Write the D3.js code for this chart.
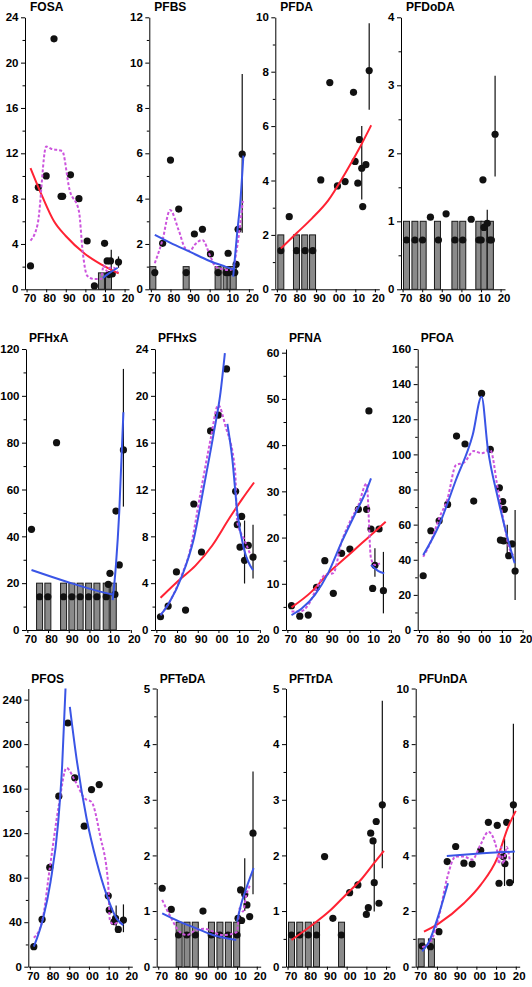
<!DOCTYPE html>
<html><head><meta charset="utf-8">
<script src="https://cdn.jsdelivr.net/npm/d3@7"></script>
<style>
body{margin:0;background:#fff;}
svg text{font-family:"Liberation Sans",Arial,sans-serif;font-weight:bold;fill:#000;}
</style></head><body>
<svg id="c" width="532" height="987"></svg>
<script>
// ---------- DATA (year, value) ----------
const fosaPts=[[1972,2.06],[1976,9.0],[1980,10.0],[1984,22.1],[1987.6,8.2],[1988.4,8.2],[1992.4,10.1],[1996.7,8.0],[2000.9,4.26],[2004.6,0.3],[2009.8,4.06],[2011.1,2.5],[2012.8,2.5],[2013.7,1.35],[2012,1.3],[2016.9,2.4]];
const fosaBars=[[2008.2,1.45],[2011.8,1.45]];
const fosaErr=[[2013.2,1.1,3.5],[2016.9,1.9,2.9]];
const fosaRed=[[1972,10.7],[1978,8.2],[1984,6.0],[1990,4.7],[2000,3.1],[2008,2.2],[2017,1.4]];
const fosaPurple=[[1972,4.3],[1975.7,5.8],[1980,12.6],[1982.5,12.4],[1988.2,12.2],[1991.9,8.8],[1996.7,6.9],[1998.7,3.2],[2000.9,1.2],[2004.7,0.9],[2008,0.9],[2009.3,2.1],[2011,1.6],[2012.5,1.9],[2014.5,1.9],[2016.5,1.5]];
const fosaBlue=[[2009,1.0],[2012,1.4],[2016.5,1.9]];

const pfbsPts=[[1972,0.74],[1976,2.03],[1980,5.7],[1984.2,3.54],[1988,0.74],[1992.2,2.44],[1996.3,2.65],[2000.4,1.56],[2004.3,0.74],[2008.4,0.74],[2009.4,1.59],[2009.8,0.74],[2012.8,0.74],[2013.5,1.1],[2014.5,2.65],[2016.6,5.96]];
const pfbsBars=[[1971,1],[1988,1],[2004.3,1],[2008.4,1],[2010.4,1],[2012,1]];
const pfbsErr=[[2016.6,2.5,9.5]];
const pfbsBlue1=[[1972,2.4],[1980,2.05],[1990,1.65],[2000,1.25],[2008,1.0],[2012,0.88]];
const pfbsBlue2=[[2012,0.56],[2014,2.47],[2015.7,3.94],[2017.2,5.9]];
const pfbsPurple=[[1972,1.15],[1976,2.2],[1979.8,3.5],[1984.2,2.6],[1987.6,1.8],[1990,1.7],[1992.2,1.95],[1996.3,2.18],[2000.4,1.44],[2003,1.0],[2009.8,0.85],[2012,0.9],[2013.5,1.6],[2015.5,2.8],[2016.9,3.9]];

const pfdaPts=[[1972,1.42],[1976.3,2.67],[1980,1.42],[1984.4,1.42],[1988.3,1.42],[1992.4,4.02],[1997,7.6],[2000.9,3.8],[2004.8,3.96],[2009.1,7.24],[2009.9,4.7],[2011.3,3.9],[2012.1,5.5],[2013.3,4.45],[2013.8,3.04],[2015.4,4.58],[2017.1,8.04]];
const pfdaBars=[[1972,2],[1980,2],[1984.2,2],[1988.2,2]];
const pfdaErr=[[2017.1,6.6,9.78],[2013.3,3.3,6.0]];
const pfdaRed=[[1972,1.5],[1980,2.06],[1987.8,2.6],[1996.3,3.28],[2004.8,4.26],[2011.6,5.12],[2018.1,6.03]];

const pfdodaPts=[[1972,0.725],[1976.3,0.725],[1980.2,0.725],[1988.3,0.725],[1996.7,0.725],[2000.7,0.725],[2008.9,0.725],[2010.1,0.725],[2014.5,0.725],[2015.3,0.725],[1984.2,1.06],[1992.2,1.11],[2005,1.03],[2011,1.61],[2011.5,0.91],[2013.2,0.97],[2017.2,2.28]];
const pfdodaBars=[[1972,1],[1976.3,1],[1980.5,1],[1987.8,1],[1996.7,1],[2000.7,1],[2008.9,1],[2011.5,1],[2014.8,1]];
const pfdodaErr=[[2017.2,1.66,3.14],[2013.2,0.75,1.17]];

const pfhxaPts=[[1972,43],[1975.9,14.2],[1979.9,14.2],[1984.1,80],[1987.5,14.2],[1991.5,14.2],[1995.5,14.2],[1999.6,14.2],[2003.6,14.2],[2008.1,14.2],[2009.1,19.5],[2009.9,24.2],[2012.3,15.2],[2012.8,50.8],[2014.4,27.8],[2016.4,76.9]];
const pfhxaBars=[[1975.9,20],[1979.9,20],[1987.5,20],[1991.5,20],[1995.5,20],[1999.6,20],[2003.6,20],[2008.1,20],[2011.5,20]];
const pfhxaErr=[[2016.4,52.7,111.5]];
const pfhxaBlue1=[[1972,25.6],[1989,20.6],[2005.1,16.4],[2011.2,15.2]];
const pfhxaBlue2=[[2011.2,12.8],[2012.8,27.8],[2014.4,50.5],[2016.4,93]];

const pfhxsPts=[[1972,1.13],[1975.7,2.04],[1979.7,4.96],[1984.1,1.7],[1988.1,10.76],[1991.8,6.66],[1996.2,17.0],[1999.9,18.36],[2003.9,22.3],[2008.3,11.84],[2009.1,9.0],[2011.2,9.7],[2010.4,7.08],[2012.6,5.95],[2014.4,7.22],[2016.7,6.23]];
const pfhxsErr=[[2012.6,3.97,9.35],[2016.7,4.4,9.0]];
const pfhxsBlue1=[[1972,1.27],[1976,2.27],[1982.5,4.67],[1988.1,7.8],[1993,12.3],[1997.8,16.9],[2001,20.3],[2003.1,23.65]];
const pfhxsBlue2=[[2004.3,17.6],[2006.7,14.6],[2009.1,10.06],[2012.3,6.94],[2016.7,5.1]];
const pfhxsPurple=[[1972,1.27],[1976,2.27],[1982.5,4.8],[1985.7,6.4],[1991.4,11.76],[1996.2,16.3],[1999.9,19.2],[2003.4,17.4],[2008,13.7],[2009.1,9.2],[2012.3,7.8],[2015.5,6.4]];
const pfhxsRed=[[1972,2.75],[1980.9,4.25],[1988.9,5.5],[1997,7.22],[2005.1,9.5],[2011.5,11.2],[2017.2,12.6]];

const pfnaPts=[[1972,5.26],[1976,3.0],[1980.1,3.24],[1984.1,9.23],[1988.1,15.0],[1992.2,7.93],[1996.2,16.6],[2000.2,17.5],[2004.3,26.1],[2008.3,26.1],[2009.4,47.4],[2010.4,21.85],[2011.2,9.0],[2012.3,14],[2014.3,21.85],[2016.4,8.5]];
const pfnaErr=[[2016.4,3.6,16.9],[2012.3,11.5,17.7]];
const pfnaBlue1=[[1972,3.24],[1976.8,4.6],[1983.3,7.6],[1989.7,12.3],[1996.2,19.0],[2002.6,25.0],[2008.3,30.3],[2010.4,32.8]];
const pfnaBlue2=[[2010.4,14.06],[2014,12.76],[2016.8,12.26]];
const pfnaPurple=[[1972,4.0],[1976,4.0],[1980.1,5.4],[1984.1,9.0],[1988.1,11.9],[1992.2,12.3],[1996.2,19.1],[2000.2,23.4],[2004.3,27.0],[2008.3,31.7],[2010.4,15.5],[2012.3,14.06],[2014.7,14.4]];
const pfnaRed=[[1972,4.9],[1981.7,8.3],[1989.7,12.26],[1997.8,15.5],[2005.9,18.75],[2012.3,21.3],[2017.5,23.4]];

const pfoaPts=[[1972,30.9],[1975.7,56.5],[1979.7,62.2],[1983.8,71.5],[1988.1,110.4],[1992.2,105.9],[1996.4,73.4],[2000.2,134.7],[2004.4,102.8],[2008.8,81.0],[2010.4,73.1],[2011.2,68.7],[2009.3,51.2],[2010.9,50.7],[2013.3,42.3],[2014.9,49],[2016.4,33.6]];
const pfoaErr=[[2016.4,17.1,68.3],[2012.6,43,60]];
const pfoaBlue=[[1972,42.7],[1979.7,59.8],[1987.8,85.4],[1995.9,111],[2000.2,132.8],[2003.2,103.4],[2008.1,75],[2012.6,53.1],[2016.2,38]];
const pfoaPurple=[[1972,41.7],[1975.7,50.3],[1979.7,63.6],[1983.8,75],[1987.8,93.9],[1991.8,95.4],[1996.4,101.9],[2000.2,100.6],[2004.4,102.5],[2008,80.6],[2011.2,59.8],[2013.6,46.5],[2015.5,42.7]];

const pfosPts=[[1972,18],[1976.2,42.5],[1980.1,89.2],[1984.7,153.2],[1989.3,219],[1992.8,169.7],[1997.6,126.3],[2001.3,159.2],[2005.2,163.7],[2009.8,63.7],[2010.3,50.9],[2012.7,40.4],[2013.5,43.4],[2014.9,33.5],[2017.5,41.9]];
const pfosErr=[[2013.8,31,55],[2017.5,31,56]];
const pfosBlue1=[[1972,18],[1976.7,43.4],[1980.5,76.3],[1984.4,130.2],[1986.4,181],[1988.1,250]];
const pfosBlue2=[[1990.3,233.4],[1993.7,187],[1998.8,133.2],[2003.9,94.3],[2009,64.3],[2014,43.4],[2017.4,37.4]];
const pfosPurple=[[1972,26],[1976.2,40.4],[1980.1,88.3],[1984.7,145.1],[1988.6,178.6],[1992.8,167.6],[1997.9,151.1],[2001.3,148.1],[2005.6,118.2],[2009.8,73.3],[2010.6,42],[2012.5,38],[2014.9,40],[2017,38]];

const pftedaPts=[[1972,1.41],[1976.6,1.03],[1980.3,0.57],[1984.5,0.57],[1988.8,0.57],[1992.7,1.0],[1996.9,0.57],[2001.2,0.57],[2005.4,0.57],[2010,0.57],[2010.5,0.87],[2011.8,1.38],[2012.3,0.83],[2013.9,1.3],[2015,1.11],[2016.4,0.9],[2018.1,2.4]];
const pftedaBars=[[1980.6,0.8],[1984.6,0.8],[1988.8,0.8],[1997,0.8],[2001.3,0.8],[2005.6,0.8],[2009.8,0.8]];
const pftedaErr=[[2018.1,1.3,3.51],[2013.9,1.0,1.95]];
const pftedaBlue1=[[1972,0.96],[1980.8,0.81],[1989.3,0.69],[1997.8,0.57],[2009.6,0.48]];
const pftedaBlue2=[[2010,0.81],[2012.2,1.14],[2014.7,1.41],[2018.4,1.77]];
const pftedaPurple=[[1972,1.2],[1976.6,0.87],[1980.8,0.63],[1984.5,0.57],[1989.3,0.66],[1993.5,0.68],[1997.8,0.63],[2002,0.57],[2006.3,0.58],[2010,0.63],[2011.3,1.05],[2013,0.99],[2014.7,1.29],[2016.7,1.47]];

const pftrdaPts=[[1972,0.57],[1976.2,0.57],[1980.5,0.57],[1984.7,0.57],[1988.8,1.98],[1993,0.87],[1997.3,0.57],[2001.5,1.33],[2005.7,1.47],[2010,0.94],[2011,1.06],[2012.2,2.4],[2013.4,2.26],[2014,1.51],[2015,2.61],[2016.4,1.14],[2018.1,2.91]];
const pftrdaBars=[[1972,0.8],[1976.2,0.8],[1980.5,0.8],[1984.7,0.8],[1997.4,0.8]];
const pftrdaErr=[[2018.1,1.77,4.78],[2014,0.99,2.26]];
const pftrdaRed=[[1972,0.48],[1982.5,0.75],[1991,0.99],[1999.5,1.29],[2007.9,1.59],[2013.9,1.86],[2018.9,2.08]];

const pfundaPts=[[1972.5,0.74],[1976.7,0.72],[1981,1.26],[1985.2,3.78],[1989.5,4.32],[1993.7,3.72],[1997.9,3.69],[2002.2,4.18],[2006.1,5.19],[2010.6,5.08],[2011.5,3.0],[2013.7,3.96],[2014.5,3.7],[2015.4,5.19],[2016.9,3.02],[2018.8,5.82]];
const pfundaBars=[[1972,1],[1977.2,1]];
const pfundaErr=[[2018.8,3.0,8.73],[2014.3,2.9,4.6]];
const pfundaBlue1=[[1972.5,0.55],[1976,0.9],[1981,1.9],[1985.6,3.0]];
const pfundaBlue2=[[1985,3.98],[2000,4.06],[2019.5,4.14]];
const pfundaPurple=[[1972.5,0.7],[1976.7,0.9],[1981,1.8],[1985.2,3.2],[1989.5,3.96],[1993.7,3.96],[1997.9,3.85],[2002.2,4.4],[2006.1,4.85],[2010.6,4.15],[2011.5,3.7],[2012.6,4.3],[2013.7,3.7],[2015.4,4.3],[2016.9,3.85]];
const pfundaRed=[[1973.4,1.26],[1981,1.56],[1993.7,2.28],[2002.2,2.94],[2010.6,3.9],[2016,5.0],[2020,5.6]];

const xTickYears=[1970,1980,1990,2000,2010,2020];

// ---------- LAYOUT ----------
const rows=[
  {y0:289.3, top:17.3, ppy:1.96, titleY:10.8},
  {y0:630, top:349, ppy:2.07, titleY:341.5},
  {y0:966.7, top:688.5, ppy:1.97, titleY:682.5}
];
const panels=[
 {name:"FOSA",row:0,ax:25,max:24,tmax:24,major:4,minor:2,pts:fosaPts,bars:fosaBars,err:fosaErr,red:[fosaRed],purple:[fosaPurple],blue:[fosaBlue]},
 {name:"PFBS",row:0,ax:149.3,max:12,tmax:12,major:2,minor:1,pts:pfbsPts,bars:pfbsBars,err:pfbsErr,red:[],purple:[pfbsPurple],blue:[pfbsBlue1,pfbsBlue2]},
 {name:"PFDA",row:0,ax:275.3,max:10,tmax:10,major:2,minor:1,pts:pfdaPts,bars:pfdaBars,err:pfdaErr,red:[pfdaRed],purple:[],blue:[]},
 {name:"PFDoDA",row:0,ax:401,max:4,tmax:4,major:1,minor:0.5,pts:pfdodaPts,bars:pfdodaBars,err:pfdodaErr,red:[],purple:[],blue:[]},
 {name:"PFHxA",row:1,ax:26,max:120,tmax:120,major:20,minor:10,pts:pfhxaPts,bars:pfhxaBars,err:pfhxaErr,red:[],purple:[],blue:[pfhxaBlue1,pfhxaBlue2]},
 {name:"PFHxS",row:1,ax:155,max:24,tmax:24,major:4,minor:2,pts:pfhxsPts,bars:[],err:pfhxsErr,red:[pfhxsRed],purple:[pfhxsPurple],blue:[pfhxsBlue1,pfhxsBlue2]},
 {name:"PFNA",row:1,ax:286,max:60.8,tmax:60,major:10,minor:5,pts:pfnaPts,bars:[],err:pfnaErr,red:[pfnaRed],purple:[pfnaPurple],blue:[pfnaBlue1,pfnaBlue2]},
 {name:"PFOA",row:1,ax:417.7,max:160,tmax:160,major:20,minor:10,pts:pfoaPts,bars:[],err:pfoaErr,red:[],purple:[pfoaPurple],blue:[pfoaBlue]},
 {name:"PFOS",row:2,ax:28.3,max:250,tmax:240,major:40,minor:20,pts:pfosPts,bars:[],err:pfosErr,red:[],purple:[pfosPurple],blue:[pfosBlue1,pfosBlue2]},
 {name:"PFTeDA",row:2,ax:156.7,max:5,tmax:5,major:1,minor:0.5,pts:pftedaPts,bars:pftedaBars,err:pftedaErr,red:[],purple:[pftedaPurple],blue:[pftedaBlue1,pftedaBlue2]},
 {name:"PFTrDA",row:2,ax:286,max:5,tmax:5,major:1,minor:0.5,pts:pftrdaPts,bars:pftrdaBars,err:pftrdaErr,red:[pftrdaRed],purple:[],blue:[]},
 {name:"PFUnDA",row:2,ax:415.7,max:10,tmax:10,major:2,minor:1,pts:pfundaPts,bars:pfundaBars,err:pfundaErr,red:[pfundaRed],purple:[pfundaPurple],blue:[pfundaBlue1,pfundaBlue2]}
];

const svg=d3.select("#c");
const RED="#ff2233", BLUE="#3a55e6", PURPLE="#cc55dd";

panels.forEach(p=>{
  const r=rows[p.row];
  const d0=1972-5.5/r.ppy;
  const x=d3.scaleLinear().domain([d0,d0+104/r.ppy]).range([p.ax,p.ax+104]);
  const y=d3.scaleLinear().domain([0,p.max]).range([r.y0,r.top]);
  const g=svg.append("g");

  const minorVals=d3.range(0,p.tmax+1e-9,p.minor).filter(v=>Math.abs(v/p.major-Math.round(v/p.major))>1e-6);
  g.append("g").attr("transform",`translate(${p.ax},0)`)
    .call(d3.axisLeft(y).tickValues(minorVals).tickSize(2.5).tickFormat(""))
    .call(s=>s.select(".domain").remove())
    .selectAll("line").attr("stroke","#000");
  const majorVals=d3.range(0,p.tmax+1e-9,p.major);
  const ya=g.append("g").attr("transform",`translate(${p.ax},0)`)
    .call(d3.axisLeft(y).tickValues(majorVals).tickSize(4).tickSizeOuter(0).tickPadding(2.5)
      .tickFormat(d=>d3.format("~g")(d)));
  ya.select(".domain").attr("stroke","#000").attr("stroke-width",1);
  ya.selectAll("text").style("font-size","11.5px").attr("font-family",null);

  const xa=g.append("g").attr("transform",`translate(0,${r.y0})`)
    .call(d3.axisBottom(x).tickValues(xTickYears).tickSize(3).tickSizeOuter(0).tickPadding(2)
      .tickFormat(d=>String(d%100).padStart(2,"0")));
  xa.select(".domain").attr("stroke","#000");
  xa.selectAll("text").style("font-size","11.5px").attr("dx",3).attr("font-family",null);

  g.append("text").attr("x",p.ax+(p.row===0?5:3)).attr("y",r.titleY)
    .style("font-size","12px").text(p.name);

  g.selectAll("rect.bar").data(p.bars).join("rect").attr("class","bar")
    .attr("x",d=>x(d[0])-3).attr("width",6)
    .attr("y",d=>y(d[1])).attr("height",d=>y(0)-y(d[1]))
    .attr("fill","#8a8a8a").attr("stroke","#1a1a1a").attr("stroke-width",1);

  g.selectAll("line.err").data(p.err).join("line").attr("class","err")
    .attr("x1",d=>x(d[0])).attr("x2",d=>x(d[0]))
    .attr("y1",d=>y(d[1])).attr("y2",d=>y(d[2]))
    .attr("stroke","#111").attr("stroke-width",1.2);

  g.selectAll("circle").data(p.pts).join("circle")
    .attr("cx",d=>x(d[0])).attr("cy",d=>y(d[1])).attr("r",3.6).attr("fill","#111");

  const line=d3.line().x(d=>x(d[0])).y(d=>y(d[1])).curve(d3.curveMonotoneX);
  p.red.forEach(s=>g.append("path").attr("d",line(s)).attr("fill","none").attr("stroke",RED).attr("stroke-width",2));
  p.purple.forEach(s=>g.append("path").attr("d",line(s)).attr("fill","none").attr("stroke",PURPLE).attr("stroke-width",2).attr("stroke-dasharray","3,2"));
  p.blue.forEach(s=>g.append("path").attr("d",line(s)).attr("fill","none").attr("stroke",BLUE).attr("stroke-width",2));
});
</script>
</body></html>
